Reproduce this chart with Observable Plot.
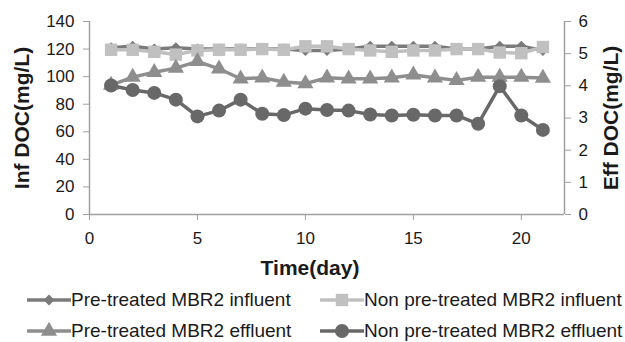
<!DOCTYPE html>
<html>
<head>
<meta charset="utf-8">
<script src="https://cdn.jsdelivr.net/npm/d3@7"></script>
<script src="https://cdn.jsdelivr.net/npm/@observablehq/plot@0.6"></script>
<style>
  body { margin: 0; background: #fff; font-family: "Liberation Sans", Arial, sans-serif; }
  #wrap { position: relative; width: 625px; height: 342px; overflow: hidden; }
  #chart svg { display: block; }
  [aria-label$="axis label"] text, [aria-label$="axis label"] { font-weight: bold; font-size: 21px; }
  .leg { position: absolute; display: flex; align-items: center; font-size: 19px; color: #1a1a1a; white-space: nowrap; height: 24px; }
  .leg svg { display: block; }
</style>
</head>
<body>
<div id="wrap"><div id="chart"></div></div>
<script>
// ---- data ----
const days = [1, 2, 3, 4, 5, 6, 7, 8, 9, 10, 11, 12, 13, 14, 15, 16, 17, 18, 19, 20, 21];
// Inf DOC (mg/L), left axis
const preInfluent = [121, 122, 120, 121, 120, 120, 120, 120, 120, 119, 119, 120, 122, 122, 122, 122, 120, 120, 122, 122, 119];
const nonInfluent = [119.5, 119.5, 118, 116, 119, 119.5, 119.5, 120, 119.5, 122, 122, 120, 119, 118, 119, 119, 120, 120, 117.5, 117, 121.5];
// Eff DOC (mg/L), right axis
const preEffluent = [4.02, 4.27, 4.42, 4.55, 4.76, 4.53, 4.22, 4.25, 4.12, 4.07, 4.25, 4.22, 4.22, 4.25, 4.34, 4.25, 4.17, 4.27, 4.27, 4.27, 4.24];
const nonEffluent = [4.01, 3.87, 3.78, 3.57, 3.05, 3.23, 3.57, 3.13, 3.09, 3.29, 3.25, 3.23, 3.11, 3.08, 3.10, 3.08, 3.08, 2.82, 3.99, 3.08, 2.63];
const xTicks = [0, 5, 10, 15, 20];
const leftTicks = [0, 20, 40, 60, 80, 100, 120, 140];
const rightTicks = [0, 1, 2, 3, 4, 5, 6];
const xTitle = "Time(day)";
const leftTitle = "Inf DOC(mg/L)";
const rightTitle = "Eff DOC(mg/L)";
const seriesNames = ["Pre-treated MBR2 influent", "Non pre-treated MBR2 influent", "Pre-treated MBR2 effluent", "Non pre-treated MBR2 effluent"];

// ---- styles ----
const colors = ["#7a7a7a", "#c0c0c0", "#8e8e8e", "#686868"];
const symbols = ["diamond2", "square", "triangle", "circle"];
const radii = [5, 7, 6, 7];
const axisGray = "#a0a0a0";
const textColor = "#1a1a1a";

const leftMax = 140, rightMax = 6, k = leftMax / rightMax;
const rows = days.map((d, i) => ({day: d, preInf: preInfluent[i], nonInf: nonInfluent[i], preEff: preEffluent[i], nonEff: nonEffluent[i]}));
const yAcc = [d => d.preInf, d => d.nonInf, d => d.preEff * k, d => d.nonEff * k];

const seriesMarks = [];
for (let s = 0; s < 4; s++) {
  seriesMarks.push(Plot.line(rows, {x: "day", y: yAcc[s], stroke: colors[s], strokeWidth: 3.5}));
  seriesMarks.push(Plot.dot(rows, {x: "day", y: yAcc[s], symbol: symbols[s], r: radii[s], fill: colors[s], stroke: "none"}));
}

const chart = Plot.plot({
  width: 625, height: 282,
  marginLeft: 89, marginRight: 61, marginTop: 21, marginBottom: 68,
  style: {fontFamily: "'Liberation Sans', Arial, sans-serif", fontSize: "17px", color: textColor, background: "#fff", overflow: "visible"},
  x: {domain: [0, 22]},
  y: {domain: [0, leftMax]},
  marks: [
    Plot.axisX({ticks: xTicks, tickSize: 6, tickPadding: 11, stroke: axisGray, fill: textColor, label: null}),
    Plot.text([xTitle], {frameAnchor: "bottom", dy: 54, dx: -17, lineAnchor: "middle", fontWeight: "bold", fontSize: 21, fill: textColor}),
    Plot.axisY({anchor: "left", ticks: leftTicks, tickSize: 6, tickPadding: 9, stroke: axisGray, fill: textColor,
      label: leftTitle, labelAnchor: "center", labelArrow: "none", labelOffset: 75}),
    Plot.axisY({anchor: "right", ticks: rightTicks.map(v => v * k), tickFormat: v => String(Math.round(v / k)),
      tickSize: 6, tickPadding: 8, stroke: axisGray, fill: textColor,
      label: rightTitle, labelAnchor: "center", labelArrow: "none", labelOffset: 53}),
    Plot.ruleX([0, 22], {stroke: axisGray, strokeWidth: 1.5}),
    Plot.ruleY([0], {stroke: axisGray, strokeWidth: 1.5}),
    ...seriesMarks
  ]
});
document.getElementById("chart").appendChild(chart);

// ---- legend ----
const wrap = document.getElementById("wrap");
const legPos = [[27, 288], [320, 288], [27, 319], [320, 319]];
const symMap = {diamond2: d3.symbolDiamond2, square: d3.symbolSquare, triangle: d3.symbolTriangle, circle: d3.symbolCircle};
seriesNames.forEach((name, s) => {
  const div = document.createElement("div");
  div.className = "leg";
  div.style.left = legPos[s][0] + "px";
  div.style.top = legPos[s][1] + "px";
  const sw = d3.create("svg").attr("width", 44).attr("height", 24);
  sw.append("line").attr("x1", 0).attr("x2", 44).attr("y1", 12).attr("y2", 12)
    .attr("stroke", colors[s]).attr("stroke-width", 3.5);
  sw.append("path").attr("transform", "translate(22,12)")
    .attr("d", d3.symbol(symMap[symbols[s]], radii[s] * radii[s] * Math.PI)())
    .attr("fill", colors[s]);
  div.appendChild(sw.node());
  const t = document.createElement("span");
  t.textContent = name;
  div.appendChild(t);
  wrap.appendChild(div);
});
</script>
</body>
</html>
